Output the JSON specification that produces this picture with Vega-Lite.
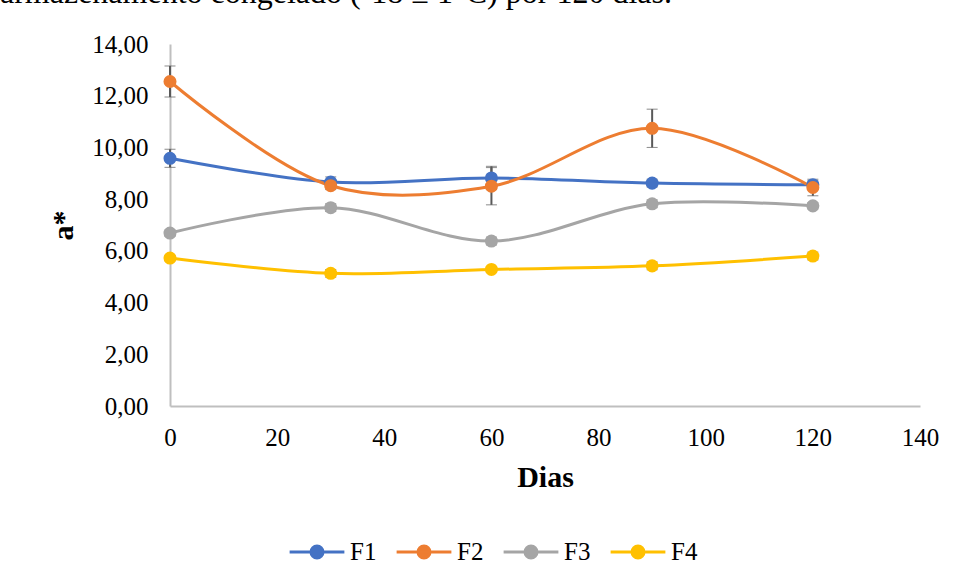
{
  "$schema": "https://vega.github.io/schema/vega-lite/v6.json",
  "autosize": "none",
  "width": 750,
  "height": 362,
  "padding": {"left": 170, "top": 44, "right": 35, "bottom": 175},
  "title": {"text": "armazenamento congelado (-18 ± 1°C) por 120 dias.", "anchor": "start", "frame": "group", "dx": -170, "offset": -3, "font": "Liberation Serif", "fontSize": 32, "fontWeight": "normal", "color": "#000000", "baseline": "alphabetic"},
  "data": {"values": [
    {"dia": 0, "f": "F1", "a": 9.58, "sd": 0.35},
    {"dia": 30, "f": "F1", "a": 8.66, "sd": 0.2},
    {"dia": 60, "f": "F1", "a": 8.82, "sd": 0.45},
    {"dia": 90, "f": "F1", "a": 8.62, "sd": 0.15},
    {"dia": 120, "f": "F1", "a": 8.56, "sd": 0.15},
    {"dia": 0, "f": "F2", "a": 12.55, "sd": 0.6},
    {"dia": 30, "f": "F2", "a": 8.52, "sd": 0.15},
    {"dia": 60, "f": "F2", "a": 8.5, "sd": 0.72},
    {"dia": 90, "f": "F2", "a": 10.74, "sd": 0.74},
    {"dia": 120, "f": "F2", "a": 8.45, "sd": 0.32},
    {"dia": 0, "f": "F3", "a": 6.69, "sd": 0.12},
    {"dia": 30, "f": "F3", "a": 7.67, "sd": 0.15},
    {"dia": 60, "f": "F3", "a": 6.38, "sd": 0.15},
    {"dia": 90, "f": "F3", "a": 7.82, "sd": 0.15},
    {"dia": 120, "f": "F3", "a": 7.74, "sd": 0.12},
    {"dia": 0, "f": "F4", "a": 5.72, "sd": 0.1},
    {"dia": 30, "f": "F4", "a": 5.13, "sd": 0.15},
    {"dia": 60, "f": "F4", "a": 5.28, "sd": 0.1},
    {"dia": 90, "f": "F4", "a": 5.42, "sd": 0.15},
    {"dia": 120, "f": "F4", "a": 5.8, "sd": 0.15}
  ]},
  "encoding": {
    "x": {"field": "dia", "type": "quantitative", "scale": {"domain": [0, 140], "nice": false},
      "axis": {"values": [0, 20, 40, 60, 80, 100, 120, 140], "title": "Dias", "grid": false, "ticks": false, "labelFlush": false, "domainColor": "#bfbfbf", "domainWidth": 2, "labelPadding": 19, "labelFont": "Liberation Serif", "labelFontSize": 25, "labelColor": "#000000", "titleFont": "Liberation Serif", "titleFontSize": 30, "titleFontWeight": "bold", "titleColor": "#000000", "titlePadding": 12}},
    "y": {"field": "a", "type": "quantitative", "scale": {"domain": [0, 14], "nice": false},
      "axis": {"values": [0, 2, 4, 6, 8, 10, 12, 14], "title": "a*", "grid": false, "ticks": false, "labelFlush": false, "domainColor": "#bfbfbf", "domainWidth": 2, "labelPadding": 22, "labelFont": "Liberation Serif", "labelFontSize": 25, "labelColor": "#000000", "labelExpr": "replace(format(datum.value, '.2f'), '.', ',')", "titleFont": "Liberation Serif", "titleFontSize": 30, "titleFontWeight": "bold", "titleColor": "#000000", "titlePadding": 13}}
  },
  "layer": [
    {"mark": {"type": "errorbar", "ticks": {"size": 11, "color": "#595959", "strokeWidth": 2}, "rule": {"color": "#595959", "strokeWidth": 2}},
     "encoding": {"yError": {"field": "sd"}, "detail": {"field": "f"}}},
    {"mark": {"type": "line", "interpolate": "catmull-rom", "strokeWidth": 3},
     "encoding": {"color": {"field": "f", "type": "nominal", "scale": {"domain": ["F1", "F2", "F3", "F4"], "range": ["#4472C4", "#ED7D31", "#A5A5A5", "#FFC000"]},
       "legend": {"orient": "none", "legendX": 118, "legendY": 479, "direction": "horizontal", "title": null, "symbolType": "M -1 0 L 1 0 M -0.22 0 A 0.22 0.22 0 1 0 0.22 0 A 0.22 0.22 0 1 0 -0.22 0", "symbolSize": 3000, "symbolStrokeWidth": 3, "labelFont": "Liberation Serif", "labelFontSize": 25, "labelColor": "#000000", "columnPadding": 13, "labelOffset": 4}}}},
    {"mark": {"type": "point", "filled": true, "opacity": 1, "size": 170},
     "encoding": {"color": {"field": "f", "type": "nominal"}}}
  ],
  "config": {"view": {"stroke": null}}
}
